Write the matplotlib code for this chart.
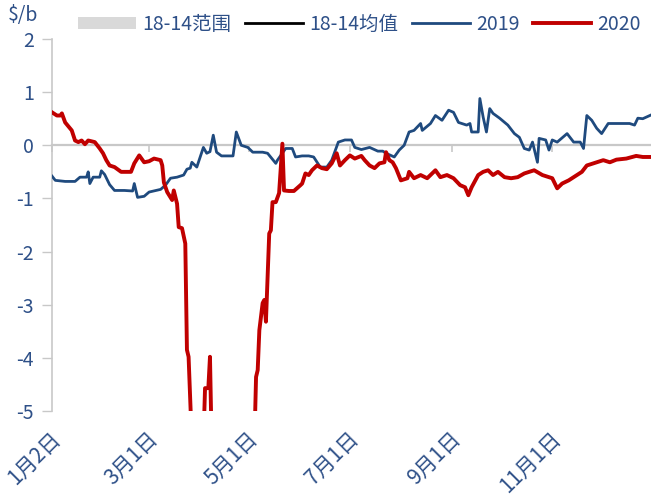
import matplotlib
matplotlib.use('Agg')
import matplotlib.pyplot as plt
from matplotlib.lines import Line2D
from matplotlib.patches import Patch
import pandas as pd

plt.rcParams['font.family'] = ['Noto Sans CJK SC', 'DejaVu Sans']

# DATA (both years drawn on a common calendar)
# -----------
dates_2019 = ['01-02', '01-04', '01-10', '01-16', '01-19', '01-23', '01-24', '01-25', '01-27',
              '01-31', '02-01', '02-03', '02-06', '02-09', '02-15', '02-20', '02-21', '02-23',
              '02-27', '03-01', '03-08', '03-11', '03-14', '03-18', '03-22', '03-24', '03-26',
              '03-27', '03-30', '04-03', '04-05', '04-07', '04-09', '04-11', '04-14', '04-21',
              '04-23', '04-26', '04-30', '05-03', '05-09', '05-12', '05-17', '05-18', '05-23',
              '05-27', '05-29', '06-02', '06-06', '06-09', '06-13', '06-17', '06-20', '06-24',
              '06-28', '07-02', '07-04', '07-08', '07-13', '07-18', '07-21', '07-23', '07-28',
              '07-31', '08-03', '08-06', '08-09', '08-13', '08-14', '08-19', '08-22', '08-26',
              '08-30', '09-02', '09-05', '09-10', '09-12', '09-13', '09-17', '09-18', '09-20',
              '09-22', '09-24', '09-26', '09-30', '10-05', '10-09', '10-12', '10-15', '10-18',
              '10-20', '10-23', '10-24', '10-28', '10-30', '11-01', '11-04', '11-10', '11-14',
              '11-18', '11-20', '11-22', '11-25', '11-28', '12-01', '12-05', '12-10', '12-18',
              '12-21', '12-23', '12-26', '12-31']
vals_2019 = [-0.58, -0.66, -0.68, -0.68, -0.60, -0.60, -0.50, -0.72, -0.60,
             -0.60, -0.48, -0.55, -0.74, -0.85, -0.85, -0.86, -0.72, -0.98,
             -0.96, -0.88, -0.83, -0.75, -0.62, -0.60, -0.56, -0.45, -0.43,
             -0.32, -0.41, -0.04, -0.15, -0.12, 0.19, -0.13, -0.20, -0.20,
             0.25, 0.00, -0.04, -0.13, -0.13, -0.15, -0.34, -0.28, -0.06,
             -0.06, -0.22, -0.20, -0.20, -0.22, -0.41, -0.41, -0.28, 0.06,
             0.10, 0.10, -0.04, -0.08, -0.04, -0.11, -0.11, -0.15, -0.22,
             -0.09, 0.00, 0.25, 0.28, 0.41, 0.28, 0.41, 0.56, 0.47,
             0.66, 0.62, 0.43, 0.38, 0.41, 0.25, 0.25, 0.88, 0.53,
             0.25, 0.69, 0.60, 0.51, 0.38, 0.22, 0.15, -0.06, -0.09,
             0.06, -0.32, 0.13, 0.10, -0.09, 0.10, 0.06, 0.22, 0.06,
             0.06, -0.06, 0.56, 0.47, 0.32, 0.22, 0.41, 0.41, 0.41,
             0.38, 0.51, 0.50, 0.57]

dates_2020 = ['01-02', '01-05', '01-07', '01-08', '01-10', '01-14', '01-16', '01-18', '01-20',
              '01-22', '01-24', '01-28', '01-31', '02-02', '02-04', '02-06', '02-09', '02-13',
              '02-19', '02-21', '02-24', '02-27', '03-01', '03-04', '03-08', '03-09', '03-10',
              '03-12', '03-15', '03-16', '03-18', '03-19', '03-21', '03-23', '03-24', '03-25',
              '03-27', '04-03', '04-04', '04-06', '04-07', '04-08', '05-04', '05-05', '05-06',
              '05-07', '05-09', '05-10', '05-11', '05-13', '05-14', '05-15', '05-17', '05-19',
              '05-21', '05-22', '05-25', '05-28', '06-01', '06-02', '06-04', '06-06', '06-08',
              '06-11', '06-14', '06-17', '06-20', '06-23', '06-25', '06-28', '07-01', '07-04',
              '07-08', '07-10', '07-13', '07-16', '07-19', '07-22', '07-23', '07-25', '07-27',
              '07-29', '08-01', '08-05', '08-06', '08-09', '08-13', '08-17', '08-22', '08-25',
              '08-29', '09-02', '09-06', '09-09', '09-11', '09-13', '09-17', '09-20', '09-23',
              '09-26', '09-29', '10-03', '10-07', '10-11', '10-15', '10-21', '10-26', '11-01',
              '11-04', '11-07', '11-11', '11-15', '11-19', '11-22', '11-26', '12-02', '12-06',
              '12-10', '12-16', '12-22', '12-26', '12-31']
vals_2020 = [0.62, 0.56, 0.56, 0.60, 0.43, 0.28, 0.09, 0.06, 0.09,
             0.02, 0.09, 0.06, -0.06, -0.15, -0.28, -0.38, -0.41, -0.50,
             -0.50, -0.34, -0.19, -0.32, -0.30, -0.25, -0.28, -0.38, -0.70,
             -0.88, -1.03, -0.85, -1.10, -1.54, -1.56, -1.85, -3.85, -3.98,
             -5.60, -5.60, -4.57, -4.57, -3.98, -5.60, -5.60, -4.36, -4.23,
             -3.48, -2.97, -2.91, -3.32, -1.66, -1.60, -1.07, -1.07, -0.90,
             0.03, -0.85, -0.86, -0.86, -0.75, -0.72, -0.53, -0.56, -0.47,
             -0.38, -0.43, -0.45, -0.34, -0.15, -0.38, -0.28, -0.19, -0.25,
             -0.20, -0.28, -0.38, -0.43, -0.34, -0.32, -0.13, -0.28, -0.32,
             -0.43, -0.66, -0.62, -0.50, -0.62, -0.56, -0.62, -0.47, -0.60,
             -0.56, -0.62, -0.75, -0.79, -0.94, -0.79, -0.56, -0.50, -0.47,
             -0.56, -0.50, -0.60, -0.62, -0.60, -0.53, -0.47, -0.56, -0.62,
             -0.81, -0.72, -0.66, -0.58, -0.50, -0.38, -0.34, -0.28, -0.32,
             -0.27, -0.25, -0.20, -0.22, -0.22]

tick_dates = ['01-02', '03-01', '05-01', '07-01', '09-01', '11-01']
tick_labels = ['1月2日', '3月1日', '5月1日', '7月1日', '9月1日', '11月1日']
y_ticks = [2, 1, 0, -1, -2, -3, -4, -5]

def to_dt(ds):
    return pd.to_datetime(['2020-' + d for d in ds])

# STYLE
txt_color = '#2E5088'
grid_color = '#C8C8C8'
blue = '#1F4A7E'
red = '#C00000'
fs = 14

fig = plt.figure(figsize=(6.51, 5.0), dpi=100)
ax = fig.add_axes([52/651, 1 - 411/500, 1 - 52/651, (411 - 39)/500])

# axis crossing at zero, drawn as the bottom spine moved to y=0
ax.spines['bottom'].set_position(('data', 0))
ax.spines['bottom'].set_color(grid_color)
ax.spines['bottom'].set_linewidth(1.6)
ax.spines['bottom'].set_zorder(2)

ax.plot(to_dt(dates_2019), vals_2019, color=blue, lw=2.0, solid_joinstyle='round', zorder=3)
ax.plot(to_dt(dates_2020), vals_2020, color=red, lw=2.8, solid_joinstyle='round', zorder=4)

ax.set_ylim(-5, 2)
ax.set_xlim(pd.Timestamp('2020-01-02'), pd.Timestamp('2020-12-31'))
ax.set_yticks(y_ticks)
ax.set_yticklabels([str(v) for v in y_ticks])

# small tick marks hang from the zero line, date labels sit at the bottom
ax.set_xticks(to_dt(tick_dates))
ax.set_xticklabels([])
ax.tick_params(axis='x', direction='out', length=5, width=1.2, color=grid_color)
for d, lab in zip(to_dt(tick_dates), tick_labels):
    ax.annotate(lab, xy=(d, 0), xycoords=('data', 'axes fraction'),
                xytext=(-2, -12), textcoords='offset points',
                rotation=45, ha='right', va='top', rotation_mode='anchor',
                fontsize=15, color=txt_color)
ax.tick_params(axis='y', length=7, width=1, color=grid_color, pad=6, labelsize=fs, labelcolor=txt_color)

for s in ['top', 'right']:
    ax.spines[s].set_visible(False)
ax.spines['left'].set_color(grid_color)
ax.spines['left'].set_linewidth(1.2)

# LEGEND
handles = [Patch(facecolor='#D9D9D9', edgecolor='none'),
           Line2D([], [], color='black', lw=2),
           Line2D([], [], color=blue, lw=2),
           Line2D([], [], color=red, lw=2.8)]
leg = fig.legend(handles, ['18-14范围', '18-14均值', '2019', '2020'],
                 loc='upper right', bbox_to_anchor=(1.005, 1.0), ncol=4, frameon=False,
                 fontsize=fs, handlelength=3.0, handleheight=0.6, handletextpad=0.3,
                 columnspacing=0.7, borderaxespad=0.3)
for t in leg.get_texts():
    t.set_color(txt_color)

fig.text(8/651, 1 - 15/500, r'\$/b', color=txt_color, fontsize=fs, ha='left', va='center')

fig.savefig('out.png', dpi=100)
